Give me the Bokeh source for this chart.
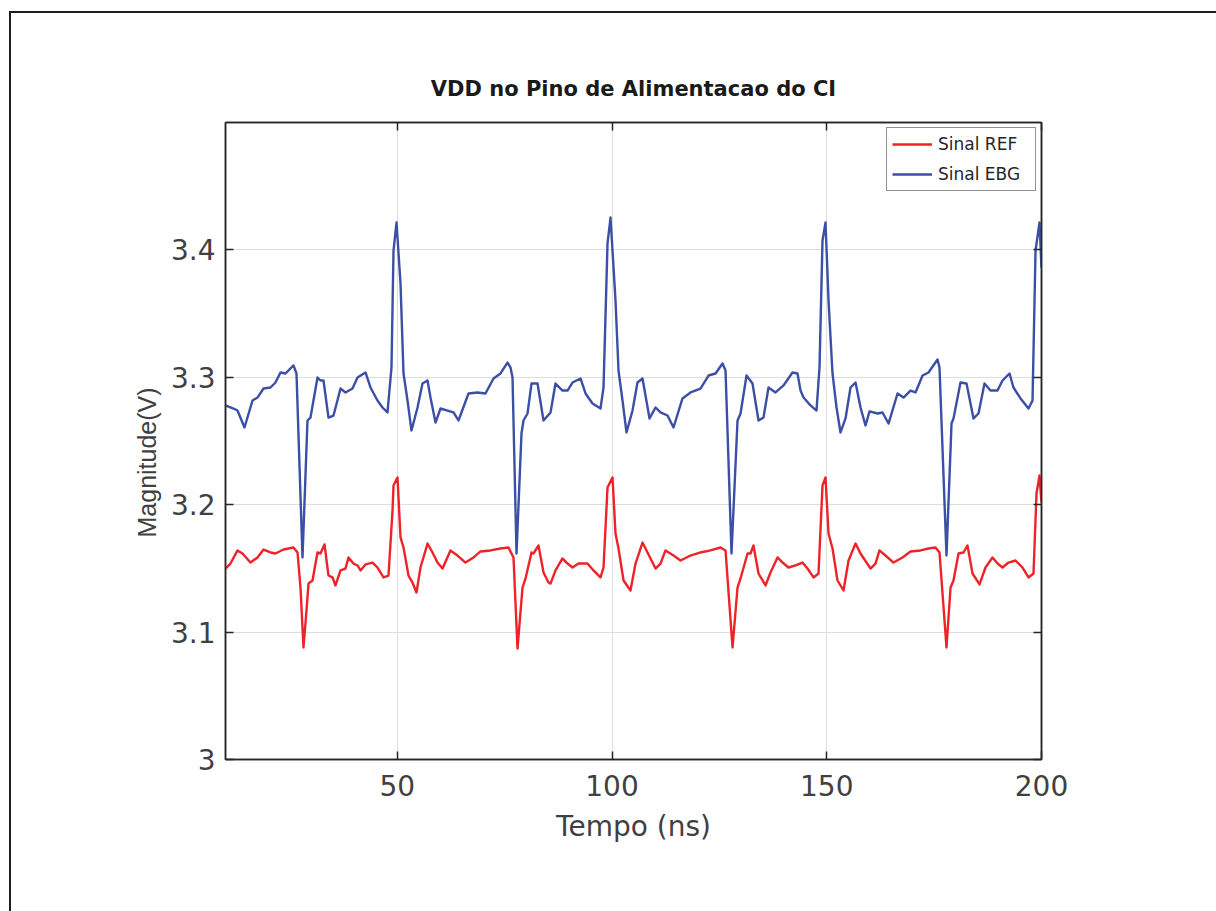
from bokeh.plotting import figure
from bokeh.models import FixedTicker, LinearAxis, Legend, LegendItem, Range1d, CustomLabelingPolicy, Title
from bokeh.embed import file_html
from bokeh.resources import INLINE

# Supply voltage at the IC power pin, reference board (REF) and EBG board
t_ref = [10.00, 11.16, 12.79, 13.96, 15.82, 17.45, 18.85, 20.48, 21.64, 23.51, 25.83, 26.77,
         27.46, 28.16, 28.86, 29.33, 30.26, 31.42, 32.12, 33.05, 33.98, 34.92, 35.61, 36.78,
         37.94, 38.64, 39.80, 40.74, 41.44, 42.60, 44.23, 45.39, 46.79, 47.95, 48.89, 49.12,
         50.05, 50.75, 51.45, 52.61, 53.54, 54.47, 55.40, 57.04, 58.20, 59.36, 60.53, 62.39,
         64.02, 65.88, 67.75, 69.38, 71.71, 74.03, 75.90, 77.06, 77.99, 79.16, 79.86, 81.25,
         81.72, 82.88, 84.05, 85.21, 85.68, 86.84, 88.47, 89.63, 90.80, 92.20, 94.29, 95.69,
         97.32, 98.02, 98.95, 100.11, 100.81, 101.51, 102.68, 104.30, 105.47, 107.10, 108.26, 110.13,
         111.29, 112.45, 114.32, 115.95, 118.28, 120.60, 122.93, 125.26, 126.43, 128.06, 129.22, 129.92,
         131.55, 132.25, 132.94, 134.11, 135.74, 136.90, 138.53, 139.70, 141.09, 142.72, 144.35, 145.52,
         146.92, 148.08, 149.01, 149.71, 150.41, 151.34, 152.50, 153.90, 155.07, 156.70, 157.86, 160.19,
         161.35, 162.28, 163.68, 165.54, 167.64, 169.50, 171.83, 173.69, 175.32, 176.25, 177.88, 178.82,
         179.51, 180.68, 181.84, 182.77, 183.94, 185.57, 186.96, 188.59, 189.76, 190.92, 192.32, 193.95,
         195.58, 196.98, 198.14, 198.84, 199.54, 200.00]
v_ref = [3.1499, 3.1538, 3.1641, 3.1617, 3.1546, 3.1586, 3.1648, 3.1625, 3.1617, 3.1648, 3.1664, 3.1625,
         3.1350, 3.0879, 3.1170, 3.1381, 3.1405, 3.1625, 3.1617, 3.1688, 3.1444, 3.1429, 3.1366, 3.1484,
         3.1499, 3.1586, 3.1538, 3.1523, 3.1484, 3.1531, 3.1546, 3.1507, 3.1429, 3.1444, 3.1954, 3.2151,
         3.2214, 3.1743, 3.1664, 3.1444, 3.1389, 3.1311, 3.1507, 3.1695, 3.1625, 3.1546, 3.1499, 3.1641,
         3.1601, 3.1546, 3.1586, 3.1633, 3.1641, 3.1656, 3.1664, 3.1586, 3.0871, 3.1350, 3.1421, 3.1625,
         3.1617, 3.1680, 3.1468, 3.1389, 3.1381, 3.1484, 3.1578, 3.1538, 3.1507, 3.1538, 3.1538, 3.1484,
         3.1429, 3.1507, 3.2135, 3.2214, 3.1774, 3.1656, 3.1405, 3.1327, 3.1538, 3.1703, 3.1625, 3.1499,
         3.1538, 3.1641, 3.1601, 3.1562, 3.1601, 3.1625, 3.1641, 3.1664, 3.1641, 3.0879, 3.1350, 3.1421,
         3.1617, 3.1617, 3.1680, 3.1460, 3.1366, 3.1468, 3.1586, 3.1546, 3.1507, 3.1523, 3.1546, 3.1499,
         3.1429, 3.1460, 3.2151, 3.2214, 3.1774, 3.1656, 3.1405, 3.1327, 3.1562, 3.1695, 3.1617, 3.1499,
         3.1538, 3.1641, 3.1601, 3.1546, 3.1586, 3.1633, 3.1641, 3.1656, 3.1664, 3.1625, 3.0879, 3.1350,
         3.1405, 3.1617, 3.1625, 3.1680, 3.1460, 3.1374, 3.1507, 3.1586, 3.1538, 3.1507, 3.1546, 3.1562,
         3.1507, 3.1429, 3.1460, 3.2088, 3.2229, 3.2017]

t_ebg = [10.00, 11.86, 12.79, 14.42, 16.29, 17.45, 18.85, 20.48, 21.64, 22.81, 23.97, 25.83,
         26.53, 27.93, 29.09, 29.79, 31.42, 32.12, 32.82, 33.98, 35.15, 36.78, 37.94, 39.57,
         40.74, 42.60, 43.76, 45.39, 46.56, 47.72, 48.65, 49.12, 49.82, 50.75, 51.45, 52.38,
         53.31, 54.71, 55.87, 57.04, 57.73, 58.90, 60.06, 61.69, 63.09, 64.25, 66.58, 68.68,
         70.54, 72.40, 74.03, 75.66, 76.36, 76.83, 77.76, 78.92, 79.39, 80.32, 81.25, 82.65,
         84.05, 85.68, 86.84, 88.47, 89.63, 90.80, 92.66, 93.83, 95.46, 97.32, 98.02, 98.95,
         99.65, 100.81, 101.51, 102.44, 103.37, 104.77, 105.93, 107.10, 108.73, 110.13, 111.29, 112.92,
         114.32, 116.41, 118.28, 120.60, 122.47, 124.10, 125.73, 126.43, 127.82, 129.22, 129.92, 131.32,
         132.71, 134.11, 135.27, 136.44, 138.07, 139.93, 142.02, 143.19, 143.89, 144.59, 146.22, 147.61,
         148.31, 149.01, 149.71, 150.41, 151.34, 152.27, 153.20, 154.37, 155.53, 156.70, 157.86, 159.02,
         159.96, 161.82, 162.98, 164.38, 166.48, 167.87, 169.50, 170.67, 172.30, 173.69, 175.79, 176.25,
         177.88, 179.05, 179.51, 181.14, 182.54, 184.17, 185.33, 186.73, 188.13, 189.76, 190.92, 192.55,
         193.48, 195.12, 196.98, 197.91, 198.61, 199.54, 200.00]
v_ebg = [3.2780, 3.2755, 3.2739, 3.2606, 3.2818, 3.2841, 3.2912, 3.2920, 3.2959, 3.3038, 3.3030, 3.3093,
         3.3030, 3.1586, 3.2661, 3.2684, 3.2998, 3.2975, 3.2975, 3.2684, 3.2700, 3.2912, 3.2881, 3.2912,
         3.2998, 3.3038, 3.2920, 3.2818, 3.2763, 3.2724, 3.3077, 3.3995, 3.4215, 3.3736, 3.3030, 3.2818,
         3.2582, 3.2763, 3.2951, 3.2975, 3.2841, 3.2645, 3.2755, 3.2739, 3.2724, 3.2661, 3.2873, 3.2881,
         3.2873, 3.2991, 3.3030, 3.3116, 3.3077, 3.2998, 3.1617, 3.2559, 3.2661, 3.2716, 3.2951, 3.2951,
         3.2661, 3.2724, 3.2951, 3.2896, 3.2896, 3.2959, 3.2991, 3.2873, 3.2794, 3.2755, 3.2920, 3.4051,
         3.4254, 3.3603, 3.3053, 3.2818, 3.2567, 3.2739, 3.2959, 3.2991, 3.2677, 3.2763, 3.2724, 3.2700,
         3.2606, 3.2834, 3.2881, 3.2912, 3.3014, 3.3030, 3.3108, 3.3053, 3.1617, 3.2661, 3.2716, 3.3014,
         3.2951, 3.2661, 3.2684, 3.2920, 3.2881, 3.2936, 3.3038, 3.3030, 3.2896, 3.2841, 3.2779, 3.2739,
         3.3077, 3.4074, 3.4215, 3.3603, 3.3030, 3.2763, 3.2567, 3.2677, 3.2920, 3.2959, 3.2763, 3.2622,
         3.2732, 3.2716, 3.2724, 3.2637, 3.2873, 3.2841, 3.2896, 3.2881, 3.3014, 3.3038, 3.3140, 3.3077,
         3.1601, 3.2637, 3.2677, 3.2959, 3.2951, 3.2677, 3.2716, 3.2951, 3.2896, 3.2896, 3.2975, 3.3030,
         3.2920, 3.2834, 3.2755, 3.2818, 3.3995, 3.4215, 3.3860]

series_labels = ["Sinal REF", "Sinal EBG"]
series_colors = ["#ee2328", "#3b4fa6"]

x_limits = (10, 200)
y_limits = (3.0, 3.5)
x_ticks = [50, 100, 150, 200]
y_ticks = [3.0, 3.1, 3.2, 3.3, 3.4]
y_tick_labels = ["3", "3.1", "3.2", "3.3", "3.4"]

title_text = "VDD no Pino de Alimentacao do CI"
x_label = "Tempo (ns)"
y_label = "Magnitude(V)"

FONT = "DejaVu Sans"
AXIS_COLOR = "#262626"
TEXT_COLOR = "#404040"

p = figure(
    frame_width=816, frame_height=637,
    min_border_left=225, min_border_right=175, min_border_top=122, min_border_bottom=152,
    x_range=Range1d(*x_limits), y_range=Range1d(*y_limits),
    output_backend="svg", toolbar_location=None,
    background_fill_color="white", border_fill_alpha=0,
    outline_line_color=AXIS_COLOR, outline_line_width=1.5,
    # page frame along the top and left edges
    styles={"box-shadow": "inset 9px 11px 0 0 #ffffff, inset 11px 13px 0 0 #1e1e1e",
            "background-color": "#ffffff"},
)

p.title.text = title_text
p.title.align = "center"
p.title.text_font = FONT
p.title.text_font_size = "21px"
p.title.text_font_style = "bold"
p.title.text_color = "#1a1a1a"
p.title.standoff = 21

r_ref = p.line(t_ref, v_ref, line_color=series_colors[0], line_width=2.4, line_join="round")
r_ebg = p.line(t_ebg, v_ebg, line_color=series_colors[1], line_width=2.4, line_join="round")

# secondary axes: tick marks only, closing the box
no_labels = CustomLabelingPolicy(code="""
try { for (const i of Array.from(indices)) indices.unset(i) } catch (e) {}
return indices
""")
top_axis = LinearAxis(major_label_policy=no_labels)
right_axis = LinearAxis(major_label_policy=no_labels)
p.add_layout(top_axis, "above")
p.add_layout(right_axis, "right")

for ax in p.xaxis:
    ax.ticker = FixedTicker(ticks=x_ticks, minor_ticks=[])
for ax in p.yaxis:
    ax.ticker = FixedTicker(ticks=y_ticks, minor_ticks=[])
    ax.major_label_overrides = dict(zip(y_ticks, y_tick_labels))

for ax in p.xaxis + p.yaxis:
    ax.axis_line_color = AXIS_COLOR
    ax.axis_line_width = 1.5
    ax.major_tick_line_color = AXIS_COLOR
    ax.major_tick_line_width = 1.5
    ax.major_tick_in = 8
    ax.major_tick_out = 0
    ax.minor_tick_line_color = None
    ax.major_label_text_font = FONT
    ax.major_label_text_font_size = "28px"
    ax.major_label_text_color = TEXT_COLOR

for ax in (top_axis, right_axis):
    ax.major_label_standoff = 0
    ax.major_label_text_font_size = "10px"

xax = p.below[0]
xax.axis_label = x_label
xax.axis_label_text_font = FONT
xax.axis_label_text_font_size = "28px"
xax.axis_label_text_font_style = "normal"
xax.axis_label_text_color = TEXT_COLOR
xax.major_label_standoff = 15
xax.axis_label_standoff = 11
p.left[0].major_label_standoff = 10

# vertical axis title, set beside the tick labels
p.add_layout(Title(text=y_label, align="left", offset=222, standoff=14,
                   text_font="Liberation Sans", text_font_size="25px", text_font_style="normal",
                   text_color=TEXT_COLOR), "left")

p.xgrid.ticker = FixedTicker(ticks=x_ticks)
p.ygrid.ticker = FixedTicker(ticks=y_ticks)
p.grid.grid_line_color = "#dedede"
p.grid.grid_line_width = 1

legend = Legend(
    items=[LegendItem(label=series_labels[0], renderers=[r_ref]),
           LegendItem(label=series_labels[1], renderers=[r_ebg])],
    location="top_right", margin=5, padding=5, spacing=8,
    glyph_width=40, glyph_height=22, label_height=22, label_width=92, label_standoff=6,
    label_text_font=FONT, label_text_font_size="17px", label_text_color="#262626",
    border_line_color=AXIS_COLOR, border_line_width=1.2,
    background_fill_color="white", background_fill_alpha=1.0,
)
p.add_layout(legend)

with open("out.html", "w") as f:
    f.write(file_html(p, INLINE))
